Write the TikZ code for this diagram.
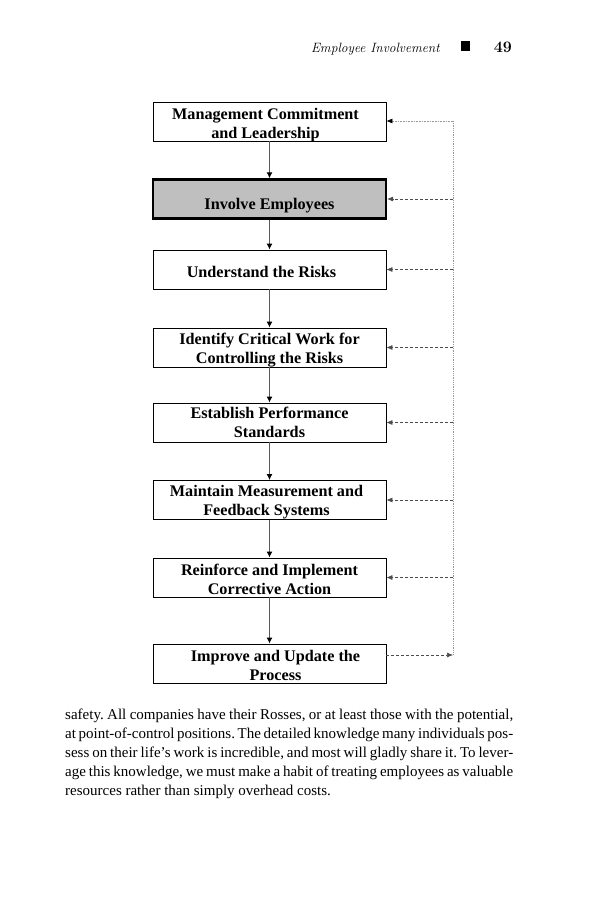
\documentclass[tikz,border=0pt]{standalone}
\usepackage{fontspec}
\setmainfont{Liberation Serif}
\newfontfamily\lmfont{Latin Modern Roman}
\usetikzlibrary{arrows.meta}
\frenchspacing
\tikzset{
  box/.style={draw=black, line width=0.8pt, minimum width=233pt, minimum height=39pt, inner sep=0pt, fill=white},
  hibox/.style={box, line width=2.3pt, fill=black!25},
  boxtext/.style={align=center, inner sep=0pt, font=\fontsize{16.2}{19}\selectfont\bfseries},
  flow/.style={draw=black!65, line width=1.3pt, -{Latex[length=6pt,width=6pt,color=black]}},
  fb/.style={draw=black!70, line width=0.6pt, densely dashed, -{Latex[length=6pt,width=5pt]}},
  fbtop/.style={draw=black!40, line width=0.6pt, densely dotted, -{Latex[length=6pt,width=5pt,color=black]}},
  fbline/.style={draw=black!40, line width=0.8pt, densely dotted},
  bodyline/.style={anchor=base west, inner sep=0pt, font=\fontsize{15}{18}\selectfont}
}
\begin{document}
\begin{tikzpicture}[x=1pt,y=-1pt]
\useasboundingbox[fill=white] (0,0) rectangle (594,900);
% header
\node[anchor=base east, inner sep=0pt, font=\lmfont\itshape\fontsize{13.5}{15}\selectfont] (hdr) at (440,52) {Employee Involvement};
\node[fill=black, minimum size=9.5pt, inner sep=0pt] (sq) at (465.5,46) {};
\node[anchor=base east, inner sep=0pt, font=\lmfont\bfseries\fontsize{16}{17}\selectfont] (pg) at (512,52) {49};
% boxes
\node[box, label={[boxtext, xshift=-4pt, yshift=-3.5pt]center:{Management Commitment\\and Leadership}}] (b1) at (269.5,121.5) {};
\node[hibox, label={[boxtext, yshift=-6.5pt]center:{Involve Employees}}] (b2) at (269.5,199) {};
\node[box, label={[boxtext, xshift=-8pt, yshift=-2pt]center:{Understand the Risks}}] (b3) at (269.5,269.5) {};
\node[box, label={[boxtext, yshift=-2.5pt]center:{Identify Critical Work for\\Controlling the Risks}}] (b4) at (269.5,347.5) {};
\node[box, label={[boxtext, yshift=0pt]center:{Establish Performance\\Standards}}] (b5) at (269.5,422.5) {};
\node[box, label={[boxtext, xshift=-3pt, yshift=-2.5pt]center:{Maintain Measurement and\\Feedback Systems}}] (b6) at (269.5,500) {};
\node[box, label={[boxtext, yshift=-2pt]center:{Reinforce and Implement\\Corrective Action}}] (b7) at (269.5,577.5) {};
\node[box, label={[boxtext, xshift=6pt, yshift=-2pt]center:{Improve and Update the\\Process}}] (b8) at (269.5,663.5) {};
% flow arrows
\draw[flow] (b1) -- (b2);
\draw[flow] (b2) -- (b3);
\draw[flow] (b3) -- (b4);
\draw[flow] (b4) -- (b5);
\draw[flow] (b5) -- (b6);
\draw[flow] (b6) -- (b7);
\draw[flow] (b7) -- (b8);
% feedback
\coordinate (ftop) at (453,121);
\coordinate (fbot) at (453,655);
\draw[fbline] (ftop) -- (fbot);
\draw[fb] (b8.east |- fbot) -- (fbot);
\draw[fbtop] (ftop) -- (b1.east |- ftop);
\draw[fb] (ftop |- b2.east) -- (b2.east);
\draw[fb] (ftop |- b3.east) -- (b3.east);
\draw[fb] (ftop |- b4.east) -- (b4.east);
\draw[fb] (ftop |- b5.east) -- (b5.east);
\draw[fb] (ftop |- b6.east) -- (b6.east);
\draw[fb] (ftop |- b7.east) -- (b7.east);
% body text
\node[bodyline] (t1) at (65,719) {\makebox[448pt][s]{safety. All companies have their Rosses, or at least those with the potential,}};
\node[bodyline] (t2) at (65,738) {\makebox[448pt][s]{at point-of-control positions. The detailed knowledge many individuals pos-}};
\node[bodyline] (t3) at (65,757) {\makebox[448pt][s]{sess on their life’s work is incredible, and most will gladly share it. To lever-}};
\node[bodyline] (t4) at (65,776) {\makebox[448pt][s]{age this knowledge, we must make a habit of treating employees as valuable}};
\node[bodyline] (t5) at (65,795) {resources rather than simply overhead costs.};
\end{tikzpicture}
\end{document}
